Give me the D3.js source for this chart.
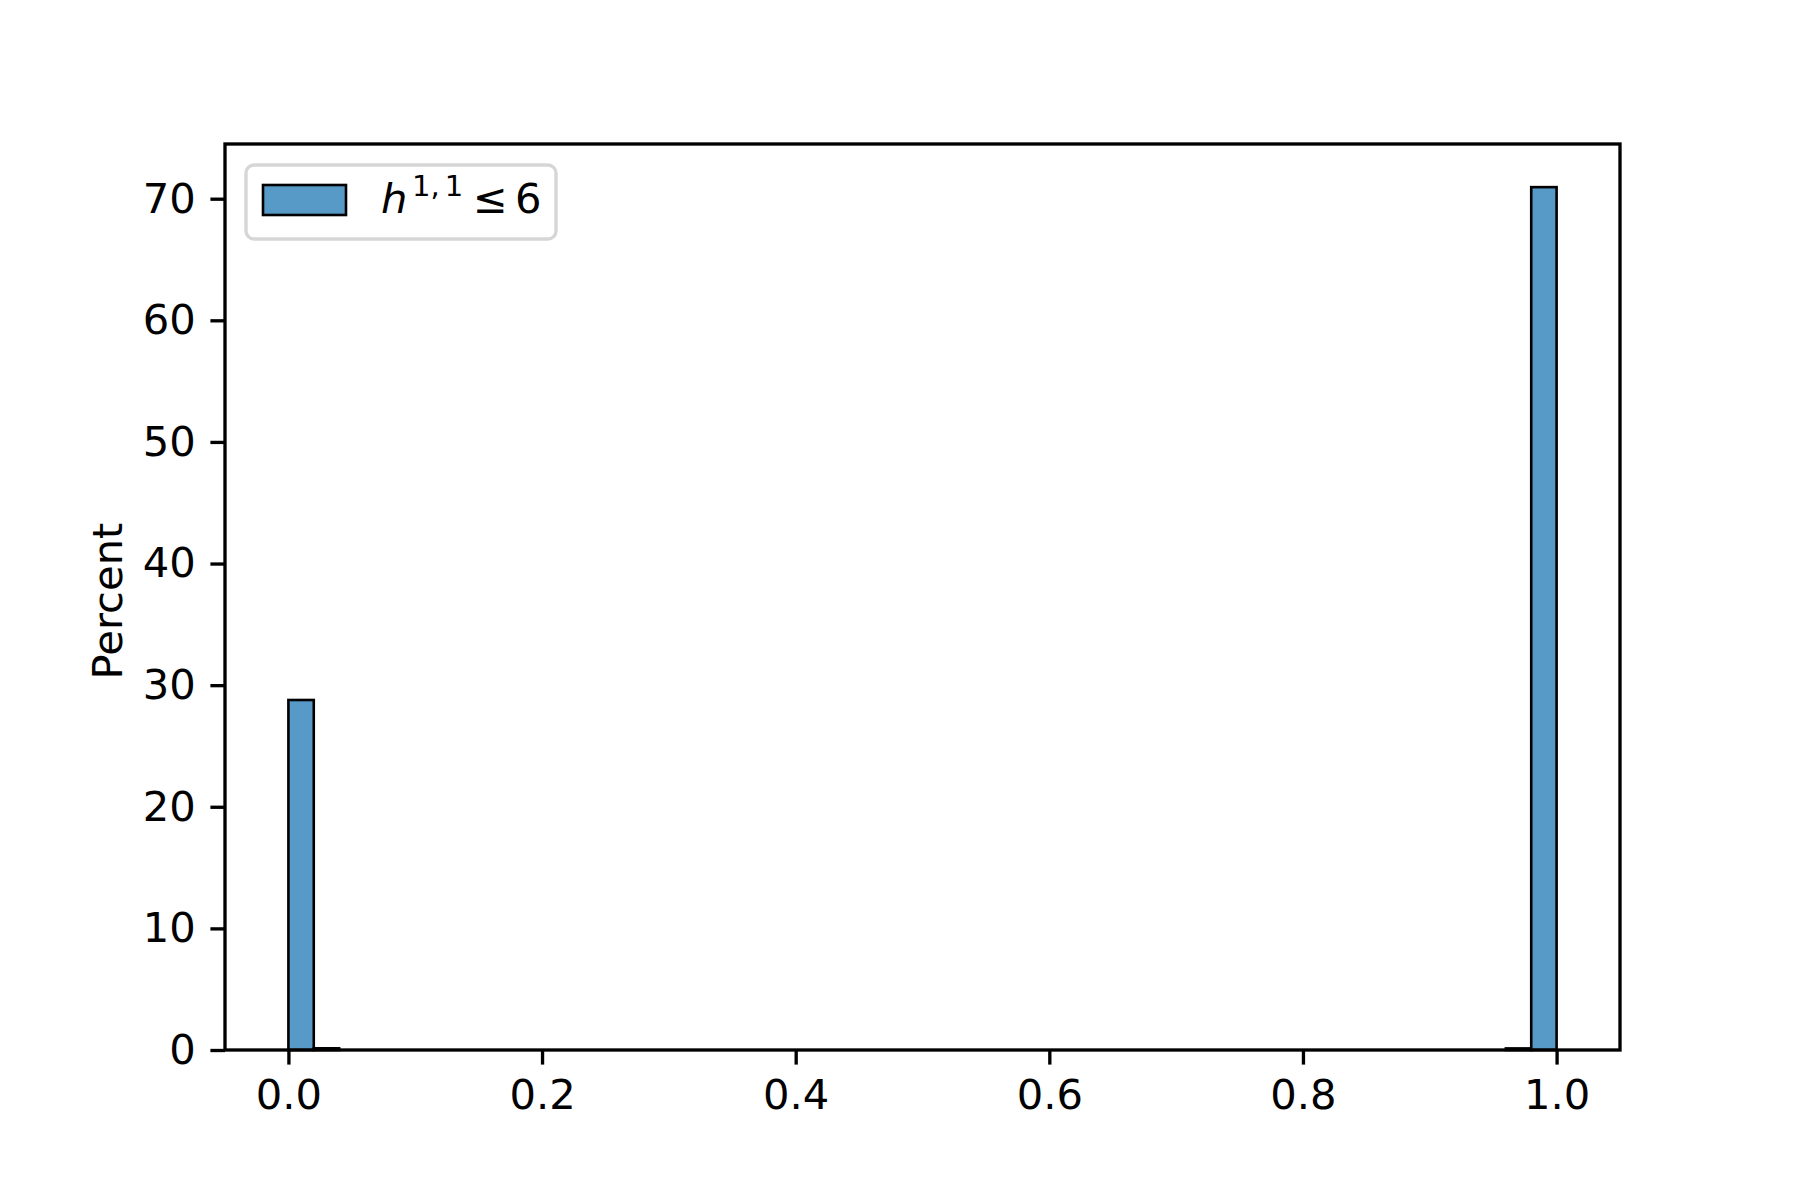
<!DOCTYPE html>
<html>
<head>
<meta charset="utf-8">
<script src="https://cdn.jsdelivr.net/npm/d3@7"></script>
<style>
  body { margin: 0; background: #fff; }
  text { font-family: "DejaVu Sans", sans-serif; }
</style>
</head>
<body>
<div id="chart"></div>
<script>
// histogram bins: 50 bins of width 0.02 over [0, 1]
const binEdges = [0.00, 0.02, 0.04, 0.06, 0.08, 0.10, 0.12, 0.14, 0.16, 0.18,
                  0.20, 0.22, 0.24, 0.26, 0.28, 0.30, 0.32, 0.34, 0.36, 0.38,
                  0.40, 0.42, 0.44, 0.46, 0.48, 0.50, 0.52, 0.54, 0.56, 0.58,
                  0.60, 0.62, 0.64, 0.66, 0.68, 0.70, 0.72, 0.74, 0.76, 0.78,
                  0.80, 0.82, 0.84, 0.86, 0.88, 0.90, 0.92, 0.94, 0.96, 0.98, 1.00];
const percents = [28.78, 0.14, 0, 0, 0, 0, 0, 0, 0, 0,
                  0, 0, 0, 0, 0, 0, 0, 0, 0, 0,
                  0, 0, 0, 0, 0, 0, 0, 0, 0, 0,
                  0, 0, 0, 0, 0, 0, 0, 0, 0, 0,
                  0, 0, 0, 0, 0, 0, 0, 0, 0.13, 70.95];
const xTicks = [0.0, 0.2, 0.4, 0.6, 0.8, 1.0];
const yTicks = [0, 10, 20, 30, 40, 50, 60, 70];

const width = 1800, height = 1200;
const margin = { top: 144, left: 225, bottom: 150, right: 180 };
const iwidth = width - margin.left - margin.right;
const iheight = height - margin.top - margin.bottom;
const fontSize = 41.67;
const barColor = "#5799c7";

const svg = d3.select("#chart").append("svg")
  .attr("width", width)
  .attr("height", height);

const g = svg.append("g").attr("transform", `translate(${margin.left},${margin.top})`);

const x = d3.scaleLinear().domain([-0.05, 1.05]).range([0, iwidth]);
const y = d3.scaleLinear().domain([0, d3.max(percents) * 1.05]).range([iheight, 0]);

const bins = percents.map((v, i) => ({ x0: binEdges[i], x1: binEdges[i + 1], v }));

g.selectAll("rect.bar").data(bins).enter().append("rect")
  .attr("class", "bar")
  .attr("x", d => x(d.x0))
  .attr("y", d => y(d.v))
  .attr("width", d => x(d.x1) - x(d.x0))
  .attr("height", d => y(0) - y(d.v))
  .attr("fill", barColor)
  .attr("stroke", "#000")
  .attr("stroke-width", 2.6);

// axes
const xAxis = g.append("g")
  .attr("transform", `translate(0,${iheight})`)
  .call(d3.axisBottom(x).tickValues(xTicks).tickFormat(d3.format(".1f")).tickSize(14.6).tickPadding(14.6));
const yAxis = g.append("g")
  .call(d3.axisLeft(y).tickValues(yTicks).tickFormat(d3.format("d")).tickSize(14.6).tickPadding(14.6));

[xAxis, yAxis].forEach(a => {
  a.select(".domain").remove();
  a.selectAll("line").attr("stroke", "#000").attr("stroke-width", 3.33);
  a.selectAll("text").attr("font-size", fontSize).attr("fill", "#000")
    .style("font-family", "DejaVu Sans");
});

// frame
g.append("rect")
  .attr("x", 0).attr("y", 0)
  .attr("width", iwidth).attr("height", iheight)
  .attr("fill", "none")
  .attr("stroke", "#000")
  .attr("stroke-width", 3.33);

// y label
svg.append("text")
  .attr("transform", `translate(122,${margin.top + iheight / 2 + 4}) rotate(-90)`)
  .attr("text-anchor", "middle")
  .attr("font-size", fontSize)
  .attr("fill", "#000")
  .text("Percent");

// legend
const leg = svg.append("g");
leg.append("rect")
  .attr("x", 246).attr("y", 165)
  .attr("width", 310).attr("height", 74)
  .attr("rx", 8)
  .attr("fill", "#fff")
  .attr("stroke", "#d6d6d6")
  .attr("stroke-width", 3.33);
leg.append("rect")
  .attr("x", 263).attr("y", 185)
  .attr("width", 83).attr("height", 30)
  .attr("fill", barColor)
  .attr("stroke", "#000")
  .attr("stroke-width", 2.6);
const lt = leg.append("text")
  .attr("y", 213)
  .attr("font-size", fontSize)
  .attr("fill", "#000");
lt.append("tspan").attr("x", 381).attr("font-style", "italic").text("h");
lt.append("tspan").attr("x", 412).attr("dy", -17).attr("font-size", 29).text("1,");
lt.append("tspan").attr("dx", 5).attr("font-size", 29).text("1");
lt.append("tspan").attr("x", 473).attr("dy", 17).text("≤");
lt.append("tspan").attr("x", 515).text("6");
</script>
</body>
</html>
